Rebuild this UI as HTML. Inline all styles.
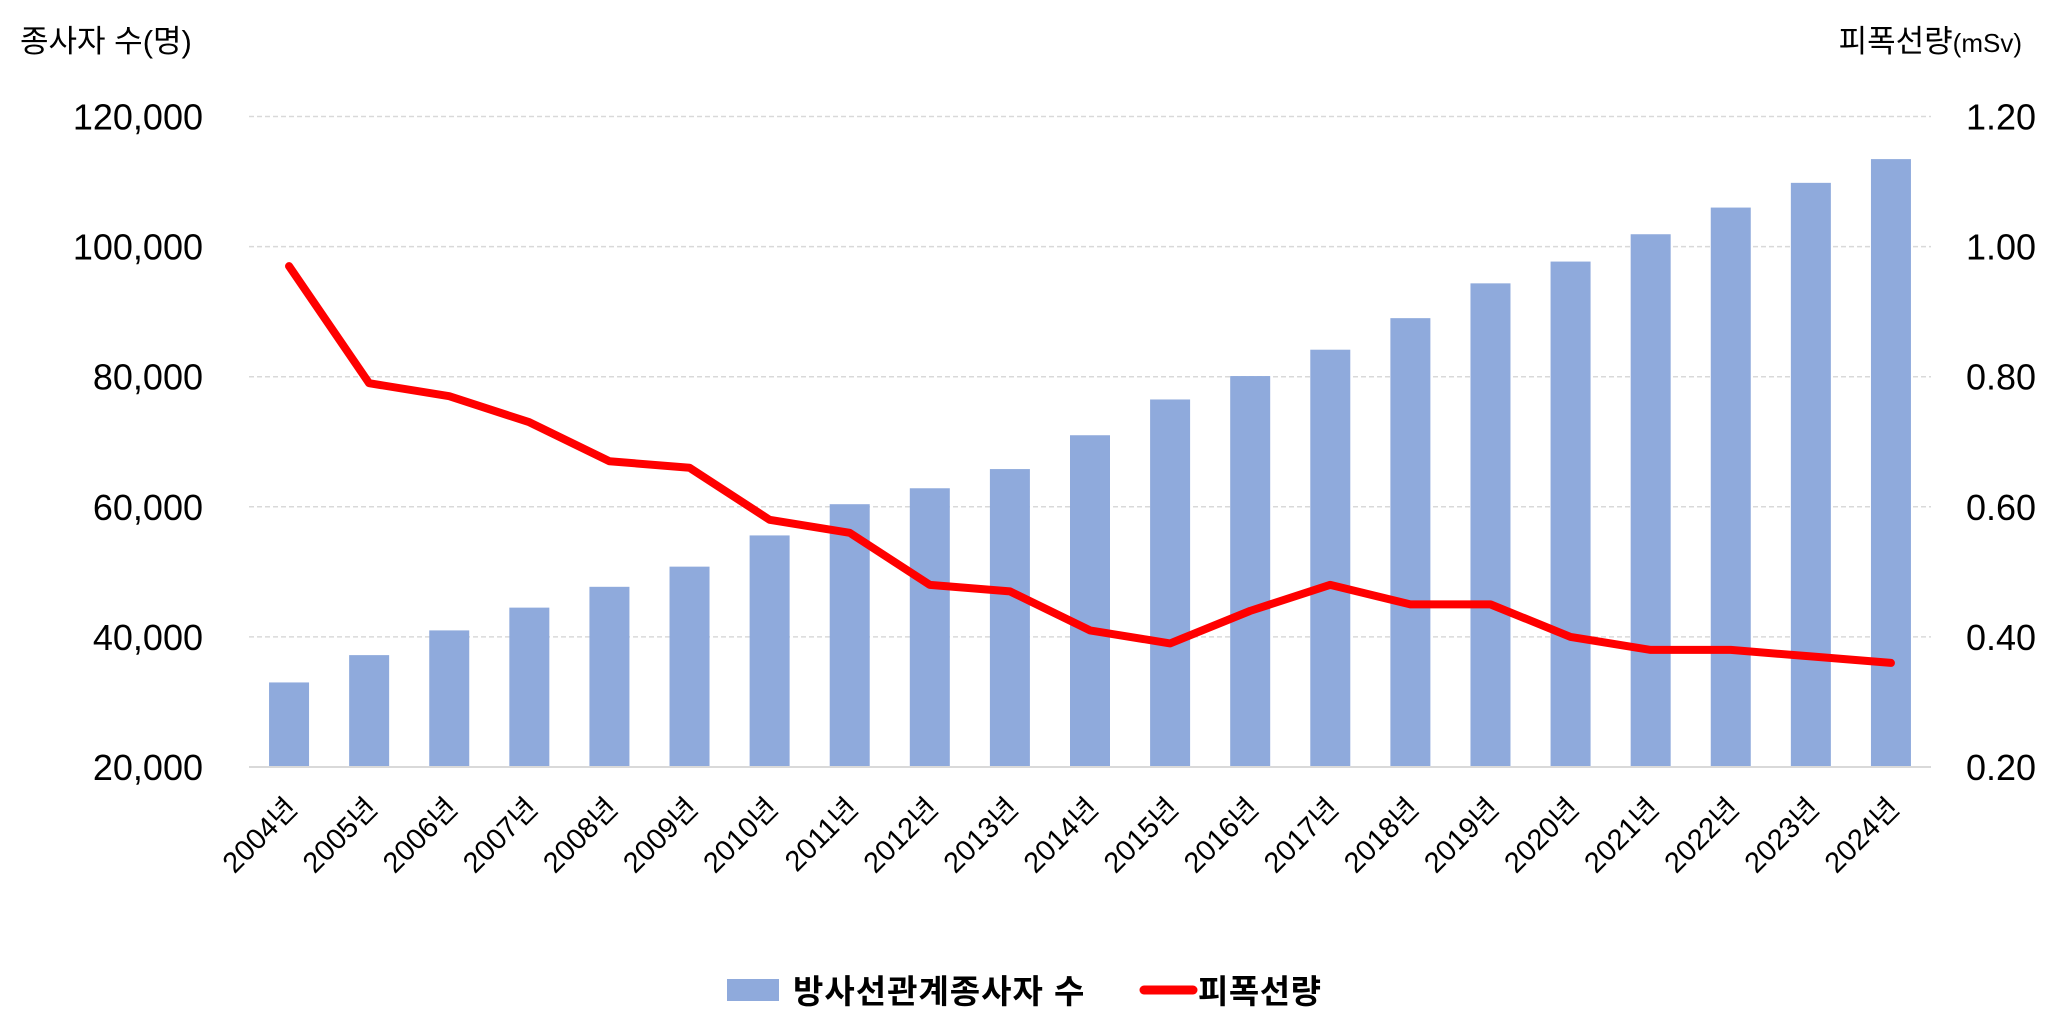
<!DOCTYPE html>
<html><head><meta charset="utf-8"><style>
html,body{margin:0;padding:0;background:#fff;}
svg{display:block;font-family:"Liberation Sans","Noto Sans CJK KR",sans-serif;}
</style></head><body>
<svg width="2048" height="1026" viewBox="0 0 2048 1026" id="chart">
<text x="20" y="52" font-size="31" fill="#000">종사자 수(명)</text>
<text x="2022" y="52" font-size="31" fill="#000" text-anchor="end">피폭선량<tspan font-size="26">(mSv)</tspan></text>
<g id="grid"></g>
<g id="bars"></g>
<g id="line"></g>
<g id="axes"></g>
<g>
<rect x="727" y="979" width="52" height="22" fill="#8faadc"/>
<text x="793" y="1003" font-size="33" font-weight="bold" fill="#000" letter-spacing="1">방사선관계종사자 수</text>
<line x1="1144" y1="990" x2="1193" y2="990" stroke="#ff0000" stroke-width="9" stroke-linecap="round"/>
<text x="1198" y="1003" font-size="33" font-weight="bold" fill="#000" letter-spacing="0.5">피폭선량</text>
</g>
</svg>
<script>
const categories = ["2004년","2005년","2006년","2007년","2008년","2009년","2010년","2011년","2012년","2013년","2014년","2015년","2016년","2017년","2018년","2019년","2020년","2021년","2022년","2023년","2024년"];
const workers = [33000,37200,41000,44500,47700,50800,55600,60400,62850,65800,71000,76500,80100,84150,89000,94350,97700,101900,106000,109800,113450];
const dose = [0.97,0.79,0.77,0.73,0.67,0.66,0.58,0.56,0.48,0.47,0.41,0.39,0.44,0.48,0.45,0.45,0.40,0.38,0.38,0.37,0.36];
const leftTicks = [20000,40000,60000,80000,100000,120000];
const leftTickLabels = ["20,000","40,000","60,000","80,000","100,000","120,000"];
const rightTickLabels = ["0.20","0.40","0.60","0.80","1.00","1.20"];
const rightTicks = [0.2,0.4,0.6,0.8,1.0,1.2];

const NS="http://www.w3.org/2000/svg";
const plotL=249, plotR=1931, plotT=116.5, plotB=767;
const yL=v=>plotB-(v-20000)/100000*(plotB-plotT);
const yR=v=>plotB-(v-0.2)/1.0*(plotB-plotT);
const step=(plotR-plotL)/categories.length;
const xC=i=>plotL+step*(i+0.5);
function mk(tag,attrs,parent){const e=document.createElementNS(NS,tag);for(const k in attrs)e.setAttribute(k,attrs[k]);parent.appendChild(e);return e;}

const grid=document.getElementById('grid'), axes=document.getElementById('axes');
leftTicks.forEach((t,i)=>{
  if(i>0){const g=mk('line',{x1:plotL,x2:plotR,y1:yL(t),y2:yL(t),stroke:'#d9d9d9','stroke-width':1.5,'stroke-dasharray':'5,3'},grid);
  
  }
  const tl=mk('text',{x:203,y:yL(t)+13,'font-size':36,'text-anchor':'end',fill:'#000'},axes);
  tl.textContent=leftTickLabels[i];
  
  
});
rightTicks.forEach((t,i)=>{
  const tr=mk('text',{x:1966,y:yR(t)+13,'font-size':36,fill:'#000'},axes);
  tr.textContent=rightTickLabels[i];
  
  
});
const bars=document.getElementById('bars');
workers.forEach((v,i)=>{
  const r=mk('rect',{x:xC(i)-20,y:yL(v),width:40,height:plotB-yL(v),fill:'#8faadc'},bars);
  
  
});
const base=mk('line',{x1:plotL,x2:plotR,y1:plotB,y2:plotB,stroke:'#d9d9d9','stroke-width':2},axes);


categories.forEach((c,i)=>{
  const t=mk('text',{transform:`translate(${xC(i)+10},${810}) rotate(-45)`,'font-size':29,'text-anchor':'end',fill:'#000'},axes);
  t.textContent=c;
  
  
});
const pts=dose.map((d,i)=>xC(i)+','+yR(d)).join(' ');
const pl=mk('polyline',{points:pts,fill:'none',stroke:'#ff0000','stroke-width':8,'stroke-linejoin':'round','stroke-linecap':'round'},document.getElementById('line'));


</script>
</body></html>
